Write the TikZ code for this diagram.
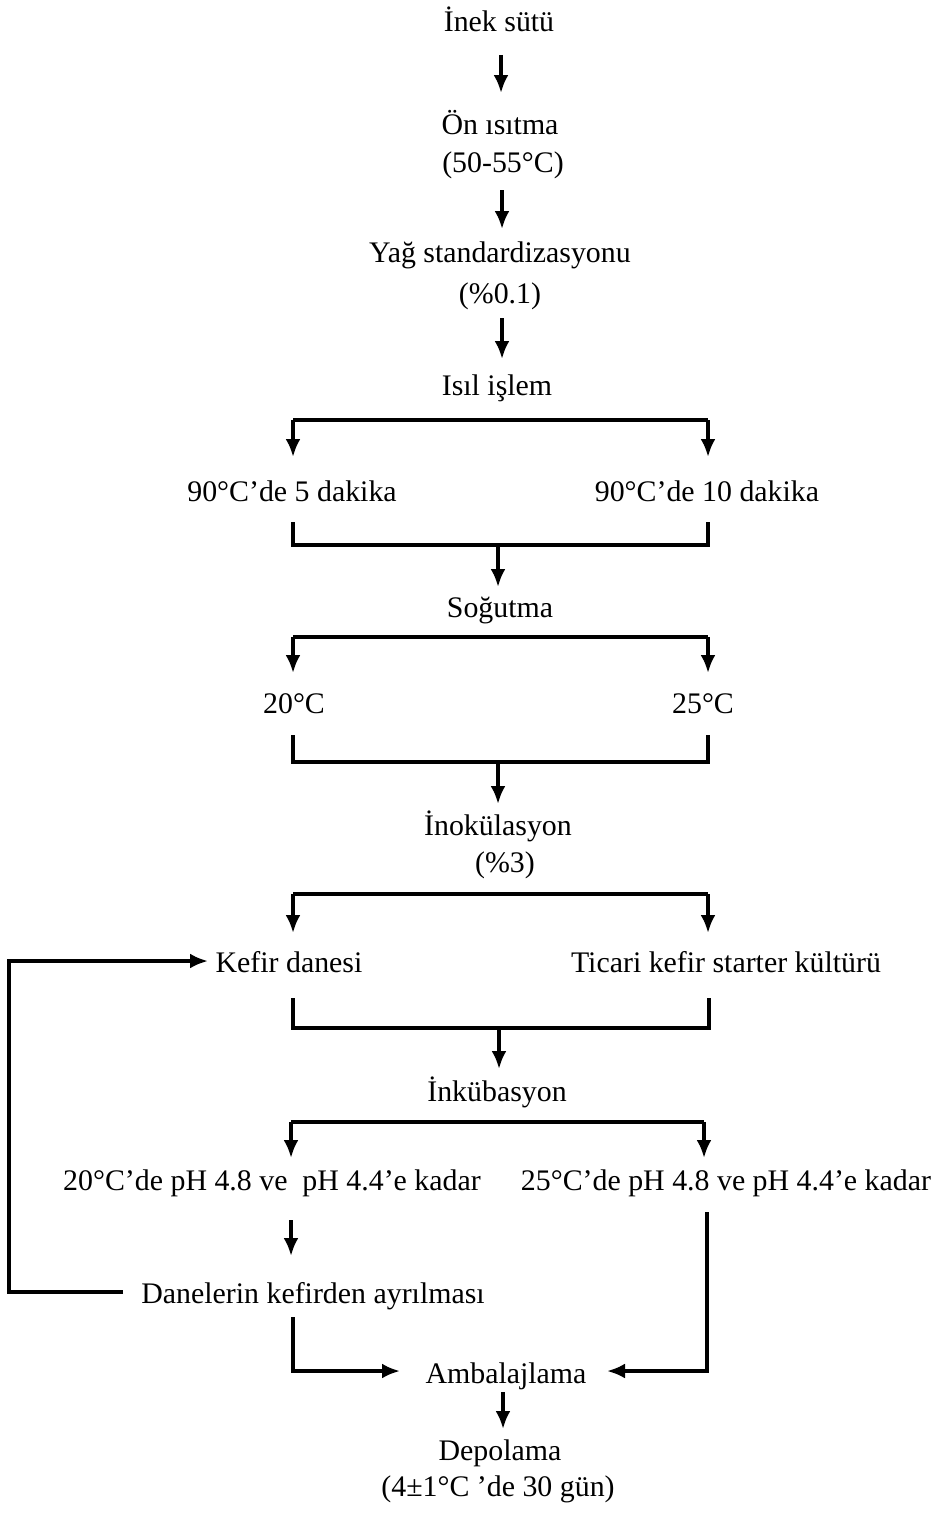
\documentclass[tikz,border=0pt]{standalone}
\usepackage{fontspec}
\setmainfont{Liberation Serif}
\usetikzlibrary{arrows.meta}
\begin{document}
\begin{tikzpicture}[x=0.02cm,y=-0.02cm,
  lbl/.style={anchor=base,inner sep=0pt,font=\fontsize{17}{20}\selectfont},
  ln/.style={line width=2pt},
  arr/.style={ln,-{Latex[length=0.36cm,width=0.3cm]}}]
\useasboundingbox (0,0) rectangle (939,1514);
% text nodes
\node[lbl] (inek) at (499,32) {İnek sütü};
\node[lbl] (on) at (500,134) {Ön ısıtma};
\node[lbl] (on2) at (503,173) {(50-55°C)};
\node[lbl] (yag) at (500,262) {Yağ standardizasyonu};
\node[lbl] (yag2) at (500,303) {(\%0.1)};
\node[lbl] (isil) at (497,395) {Isıl işlem};
\node[lbl] (t5) at (292,501) {90°C’de 5 dakika};
\node[lbl] (t10) at (707,501) {90°C’de 10 dakika};
\node[lbl] (sog) at (500,617) {Soğutma};
\node[lbl] (s20) at (294,713) {20°C};
\node[lbl] (s25) at (703,713) {25°C};
\node[lbl] (ino) at (498,835) {İnokülasyon};
\node[lbl] (ino2) at (505,872) {(\%3)};
\node[lbl] (kd) at (289,972) {Kefir danesi};
\node[lbl] (tk) at (726,972) {Ticari kefir starter kültürü};
\node[lbl] (ink) at (497,1101) {İnkübasyon};
\node[lbl] (i20) at (272,1190) {20°C’de pH 4.8 ve\ \ pH 4.4’e kadar};
\node[lbl] (i25) at (726,1190) {25°C’de pH 4.8 ve pH 4.4’e kadar};
\node[lbl] (dan) at (313,1303) {Danelerin kefirden ayrılması};
\node[lbl] (amb) at (506,1383) {Ambalajlama};
\node[lbl] (dep) at (500,1460) {Depolama};
\node[lbl] (dep2) at (498,1496) {(4±1°C ’de 30 gün)};
% coordinates
\coordinate (a1s) at (501,55);   \coordinate (a1e) at (501,93);
\coordinate (a2s) at (502,190);  \coordinate (a2e) at (502,229);
\coordinate (a3s) at (502,318);  \coordinate (a3e) at (502,359);
\coordinate (b1l) at (293,420);  \coordinate (b1r) at (708,420);
\coordinate (b1le) at (293,457); \coordinate (b1re) at (708,457);
\coordinate (m1l) at (293,522);  \coordinate (m1r) at (708,522);
\coordinate (m1c) at (498,545);  \coordinate (m1e) at (498,587);
\coordinate (b2l) at (293,637);  \coordinate (b2r) at (708,637);
\coordinate (b2le) at (293,673); \coordinate (b2re) at (708,673);
\coordinate (m2l) at (293,735);  \coordinate (m2r) at (708,735);
\coordinate (m2c) at (498,762);  \coordinate (m2e) at (498,804);
\coordinate (b3l) at (293,894);  \coordinate (b3r) at (708,894);
\coordinate (b3le) at (293,933); \coordinate (b3re) at (708,933);
\coordinate (m3l) at (293,998);  \coordinate (m3r) at (709,998);
\coordinate (m3c) at (499,1028); \coordinate (m3e) at (499,1069);
\coordinate (b4l) at (291,1122); \coordinate (b4r) at (704,1122);
\coordinate (b4le) at (291,1158); \coordinate (b4re) at (704,1158);
\coordinate (d1s) at (291,1220); \coordinate (d1e) at (291,1256);
\coordinate (fbs) at (123,1292); \coordinate (fbx) at (9,1292);
\coordinate (fbe) at (208,961);
\coordinate (l1s) at (293,1317); \coordinate (l1e) at (400,1371);
\coordinate (r1s) at (707,1212); \coordinate (r1e) at (607,1371);
\coordinate (a4s) at (503,1392); \coordinate (a4e) at (503,1429);
% connectors
\draw[arr] (a1s) -- (a1e);
\draw[arr] (a2s) -- (a2e);
\draw[arr] (a3s) -- (a3e);
\draw[ln] (b1l) -- (b1r);
\draw[arr] (b1l) -- (b1le);
\draw[arr] (b1r) -- (b1re);
\draw[ln] (m1l) |- (m1r |- m1c) -- (m1r);
\draw[arr] (m1c) -- (m1e);
\draw[ln] (b2l) -- (b2r);
\draw[arr] (b2l) -- (b2le);
\draw[arr] (b2r) -- (b2re);
\draw[ln] (m2l) |- (m2r |- m2c) -- (m2r);
\draw[arr] (m2c) -- (m2e);
\draw[ln] (b3l) -- (b3r);
\draw[arr] (b3l) -- (b3le);
\draw[arr] (b3r) -- (b3re);
\draw[ln] (m3l) |- (m3r |- m3c) -- (m3r);
\draw[arr] (m3c) -- (m3e);
\draw[ln] (b4l) -- (b4r);
\draw[arr] (b4l) -- (b4le);
\draw[arr] (b4r) -- (b4re);
\draw[arr] (d1s) -- (d1e);
\draw[arr] (fbs) -- (fbx) |- (fbe);
\draw[arr] (l1s) |- (l1e);
\draw[arr] (r1s) |- (r1e);
\draw[arr] (a4s) -- (a4e);
\end{tikzpicture}
\end{document}
